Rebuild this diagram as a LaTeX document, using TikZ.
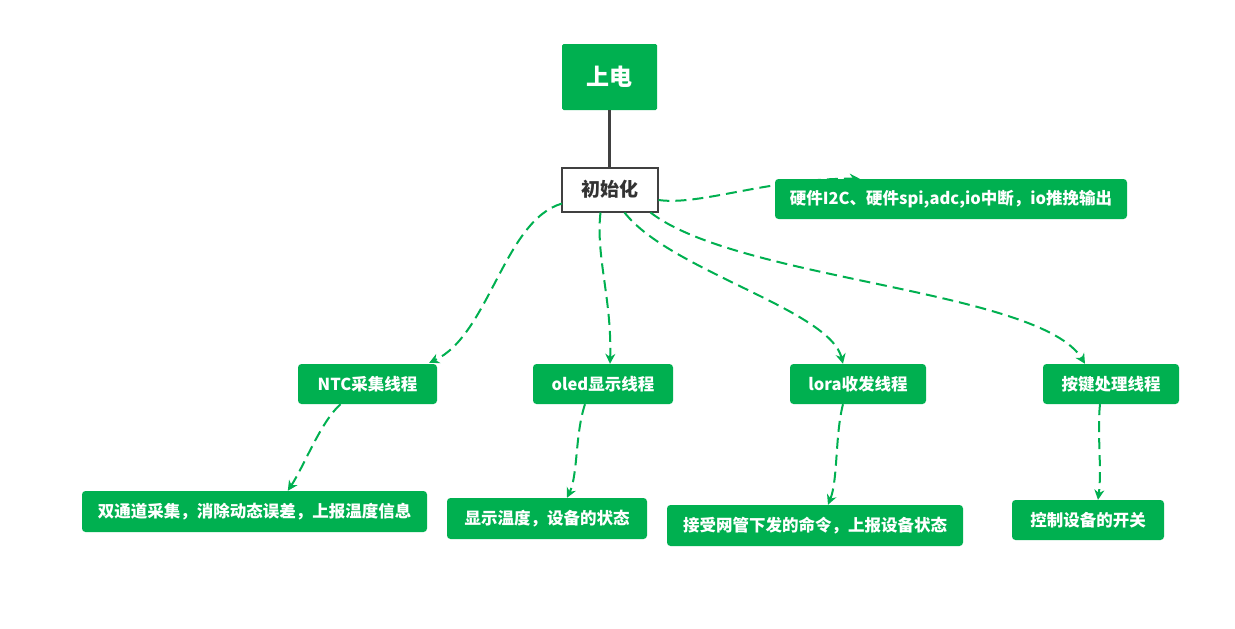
\documentclass[tikz,border=0pt]{standalone}
\usepackage{fontspec}
\setmainfont{Noto Sans CJK SC}
\usetikzlibrary{arrows.meta,calc}
\definecolor{gr}{RGB}{0,176,80}
\definecolor{dk}{RGB}{64,64,64}
\definecolor{tx}{RGB}{51,51,51}
\begin{document}
\begin{tikzpicture}[x=1pt,y=-1pt,
  box/.style={fill=gr, text=white, rounded corners=3.5pt, font=\bfseries\fontsize{16.5}{19}\selectfont, inner sep=0pt, minimum height=40pt},
  flow/.style={draw=gr, line width=2pt, dash pattern=on 11pt off 6pt, -{Stealth[length=10pt,width=10pt]}}
]
\useasboundingbox[fill=white] (0,0) rectangle (1235,629);

\node[box, minimum width=95pt, minimum height=66pt, rounded corners=1.5pt, font=\bfseries\fontsize{23}{27}\selectfont] (pw) at (609.5,77) {上电};
\node[draw=dk, line width=2pt, fill=white, text=tx, inner sep=0pt, minimum width=96pt, minimum height=44pt, font=\bfseries\fontsize{19}{22}\selectfont] (init) at (609.5,189.5) {初始化};
\draw[dk, line width=3pt] (pw.south) -- (init.north);

\node[box, minimum width=352pt] (hw) at (951,199) {硬件I2C、硬件spi,adc,io中断，io推挽输出};
\node[box, minimum width=139pt] (ntc) at (367.5,384) {NTC采集线程};
\node[box, minimum width=140pt] (oled) at (603,384) {oled显示线程};
\node[box, minimum width=136pt] (lora) at (858,384) {lora收发线程};
\node[box, minimum width=136pt] (key) at (1111,384) {按键处理线程};

\node[box, minimum width=345pt, minimum height=41pt] (dual) at (254.5,511.5) {双通道采集，消除动态误差，上报温度信息};
\node[box, minimum width=200pt, minimum height=41pt] (show) at (547,518.5) {显示温度，设备的状态};
\node[box, minimum width=296pt, minimum height=41pt] (recv) at (815,525.5) {接受网管下发的命令，上报设备状态};
\node[box, minimum width=152pt] (ctrl) at (1088,520) {控制设备的开关};

\draw[flow] ($(init.east)+(0,10.5)$) .. controls +(42,6) and +(-90,-1) .. ($(hw.north west)+(85,0)$);
\draw[flow] ($(init.south west)+(1.5,-9)$) .. controls +(-58,17) and +(60,-28) .. ($(ntc.north east)+(-8,-1)$);
\draw[flow] ($(init.south west)+(40,0)$) .. controls +(-5,43) and +(2,-64) .. ($(oled.north)+(7,0)$);
\draw[flow] ($(init.south west)+(64,0)$) .. controls +(45,58) and +(-13,-54) .. ($(lora.north)+(-15,0)$);
\draw[flow] ($(init.south west)+(90,0)$) .. controls +(88,68) and +(-45,-74) .. ($(key.north)+(-26,0)$);

\draw[flow] ($(ntc.south)+(-27,0)$) .. controls +(-20,18) and +(17,-26) .. ($(dual.north west)+(206,0)$);
\draw[flow] ($(oled.south)+(-18,0)$) .. controls +(-10,30) and +(11,-23) .. ($(show.north)+(20,0)$);
\draw[flow] ($(lora.south)+(-15,0)$) .. controls +(-8,31) and +(10,-25) .. ($(recv.north)+(13,0)$);
\draw[flow] ($(key.south)+(-11,0)$) .. controls +(-3,28) and +(4,-30) .. ($(ctrl.north)+(10,0)$);
\end{tikzpicture}
\end{document}
